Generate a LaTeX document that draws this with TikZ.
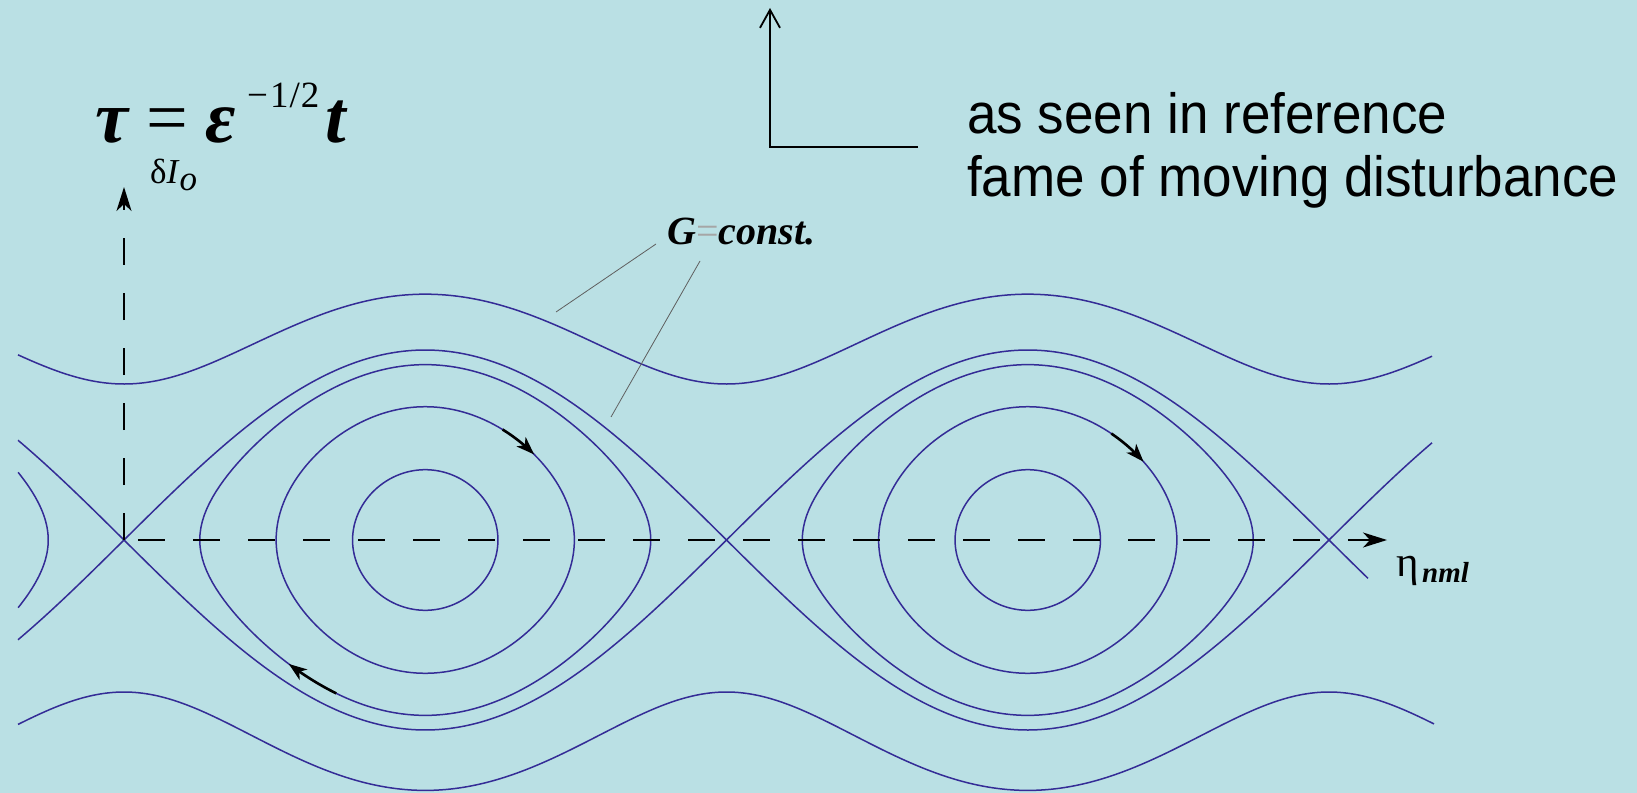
\documentclass[tikz,border=0pt]{standalone}
\usepackage{fontspec}
\setmainfont{Liberation Serif}
\newfontfamily\sansf{Liberation Sans}
\usetikzlibrary{arrows.meta}
\definecolor{bgc}{RGB}{186,224,228}
\definecolor{curvec}{RGB}{52,44,150}
\definecolor{leadc}{RGB}{95,95,95}
\tikzset{
 orbit/.style={curvec, line width=1.5bp},
 axisline/.style={black, line width=1.4bp, dash pattern=on 27bp off 28bp, -{Stealth[length=24bp,width=15bp,inset=7bp]}},
 flow/.style={black, line width=2.6bp, -{Stealth[length=18bp,width=13bp,inset=5bp]}},
 leadline/.style={leadc, line width=0.8bp},
 lbl/.style={anchor=base west, inner sep=0pt},
 bigmath/.style={lbl, font=\fontsize{74bp}{74bp}\selectfont\bfseries\itshape},
 sanstext/.style={lbl, font=\sansf\fontsize{53bp}{53bp}\selectfont},
}
\begin{document}
\begin{tikzpicture}[x=1bp,y=-1bp]
\fill[bgc] (0,0) rectangle (1637,793);
\useasboundingbox (0,0) rectangle (1637,793);
% separatrices
\draw[orbit] plot[domain=18:1432, samples=400, variable=\x] (\x, {540-190*cos(((\x-425.25)/602.5)*180)});
\draw[orbit] plot[domain=18:1368, samples=400, variable=\x] (\x, {540+190*cos(((\x-425.25)/602.5)*180)});
% untrapped
\draw[orbit] plot[domain=18:1432, samples=400, variable=\x] (\x, {540-100*sqrt(1.56^2+(1.90*cos(((\x-425.25)/602.5)*180))^2)});
\draw[orbit] plot[domain=18:1434, samples=400, variable=\x] (\x, {540+100*sqrt(1.52^2+(1.99*cos(((\x-425.25)/602.5)*180))^2)});
% trapped orbits
\foreach \m in {0.923,0.7015,0.37}{
 \draw[orbit] plot[domain=0:360, samples=181, variable=\t] ({425.25+(602.5/180)*asin(\m*sin(\t))}, {540-190*\m*cos(\t)}) -- cycle;
 \draw[orbit] plot[domain=0:360, samples=181, variable=\t] ({1027.75+(602.5/180)*asin(\m*sin(\t))}, {540-190*\m*cos(\t)}) -- cycle;
}
% partial orbit at left
\draw[orbit] plot[domain=67.3:112.7, samples=60, variable=\t] ({-177.25+(602.5/180)*asin(0.923*sin(\t))}, {540-190*0.923*cos(\t)});
% flow arrows
\draw[flow] plot[domain=34:50, samples=12, variable=\t] ({425.25+(602.5/180)*asin(0.7015*sin(\t))}, {540-190*0.7015*cos(\t)});
\draw[flow] plot[domain=37:54, samples=12, variable=\t] ({1027.75+(602.5/180)*asin(0.7015*sin(\t))}, {540-190*0.7015*cos(\t)});
\draw[flow] plot[domain=209:225, samples=12, variable=\t] ({425.25+(602.5/180)*asin(0.923*sin(\t))}, {540-190*0.923*cos(\t)});
% axes
\coordinate (X1) at (124,540);
\coordinate (vtip) at (124,187);
\coordinate (htip) at (1387,540);
\draw[axisline] (X1) -- (vtip);
\draw[axisline, dash phase=41bp] (X1) -- (htip);
% formula tau = eps^{-1/2} t
\node[bigmath] (tau) at (95,142) {τ};
\node[lbl, font=\fontsize{74bp}{74bp}\selectfont] (eq) at (146,142) {=};
\node[bigmath] (eps) at (205,142) {ε};
\node[lbl, font=\fontsize{37bp}{37bp}\selectfont] (sup) at (247,107) {−\hspace{2bp}1\hspace{1bp}/\hspace{1bp}2};
\node[bigmath] (tt) at (325,142) {t};
% other labels
\node[lbl] (dI) at (150,183) {\fontsize{35bp}{35bp}\selectfont δ\textit{I}\raisebox{-7bp}{\textit{o}}};
\node[lbl] (G) at (667,244) {\fontsize{40bp}{40bp}\selectfont\bfseries\itshape G\textcolor{gray!70}{\mdseries\upshape =}const.};
\node[lbl] (eta) at (1396,576) {\fontsize{43bp}{43bp}\selectfont η};
\node[lbl] (nml) at (1422,582) {\fontsize{29bp}{29bp}\selectfont\bfseries\itshape nml};
\node[sanstext] (t1) at (967,133) {\scalebox{1}[1.07]{as seen in reference}};
\node[sanstext] (t2) at (967,196) {\scalebox{1}[1.07]{fame of moving disturbance}};
% lead lines
\coordinate (g1a) at (656,244);
\coordinate (g1b) at (556,312);
\coordinate (g2a) at (700,261);
\coordinate (g2b) at (611,417);
\draw[leadline] (g1a) -- (g1b);
\draw[leadline] (g2a) -- (g2b);
% reference-frame arrow
\coordinate (Lc) at (770,147);
\coordinate (Ltop) at (770,8);
\coordinate (Lr) at (918,147);
\draw[black, line width=1.8bp, -{Straight Barb[length=18bp,width=20bp]}] (Lr) -- (Lc) -- (Ltop);
\end{tikzpicture}
\end{document}
